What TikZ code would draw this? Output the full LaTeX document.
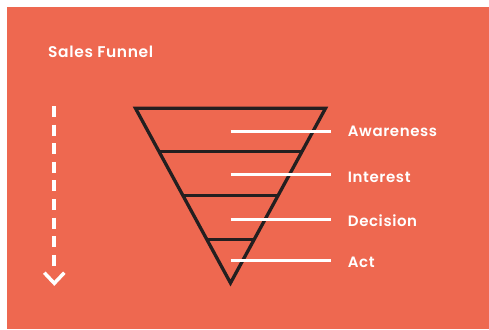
\documentclass[tikz,border=0pt]{standalone}
\usepackage{fontspec}
\setmainfont{Poppins}[BoldFont={Poppins SemiBold}]
\newfontfamily\labelfont{Poppins SemiBold}[LetterSpace=4]
\usetikzlibrary{calc}
\definecolor{funnelbg}{HTML}{EE6850}
\definecolor{funnelink}{HTML}{231F20}
\begin{document}
\begin{tikzpicture}[x=1pt,y=-1pt,
  outline/.style={draw=funnelink,line width=3.3pt,line join=miter},
  tier/.style={draw=funnelink,line width=3pt},
  marker/.style={draw=white,line width=3pt},
  stage/.style={anchor=base west,inner sep=0pt,text=white,font=\labelfont\fontsize{15}{17}\selectfont},
  heading/.style={stage,font=\labelfont\fontsize{15.5}{17}\selectfont},
  flow/.style={draw=white,line width=3.8pt,dash pattern=on 11pt off 7.6pt},
  flowhead/.style={draw=white,line width=3.5pt,line join=miter}]
  % page and background panel
  \useasboundingbox (0,0) rectangle (489,329);
  \fill[funnelbg] (7,7) rectangle (489,329);

  % title
  \node[heading] (title) at (48,57.3) {Sales Funnel};

  % dashed downward arrow
  \coordinate (flowtop) at (53.9,106);
  \coordinate (flowend) at (53.9,266.5);
  \coordinate (headl) at (44.3,272.7);
  \coordinate (headtip) at (54.3,283.3);
  \coordinate (headr) at (64.3,272.7);
  \draw[flow] (flowtop) -- (flowend);
  \draw[flowhead] (headl) -- (headtip) -- (headr);

  % funnel outline
  \coordinate (tl) at (135.5,108.3);
  \coordinate (tr) at (325.5,108.3);
  \coordinate (apex) at (230.5,283);
  \draw[outline] (tl) -- (tr) -- (apex) -- cycle;

  % tier dividers
  \foreach \t in {0.25,0.5,0.75}
    \draw[tier] ($(tl)!\t!(apex)$) -- ($(tr)!\t!(apex)$);

  % stage labels with pointer lines
  \node[stage] (awareness) at (347.7,136) {Awareness};
  \node[stage] (interest)  at (347.7,182.3) {Interest};
  \node[stage] (decision)  at (347.7,226.7) {Decision};
  \node[stage] (act)       at (347.7,267.3) {Act};

  \coordinate (m1) at (230.7,131.7);
  \coordinate (m2) at (230.7,174.7);
  \coordinate (m3) at (230.7,219);
  \coordinate (m4) at (230.7,260);
  \draw[marker] (m1) -- (m1 -| 330.7,0);
  \draw[marker] (m2) -- (m2 -| 330.7,0);
  \draw[marker] (m3) -- (m3 -| 330.7,0);
  \draw[marker] (m4) -- (m4 -| 330.7,0);
\end{tikzpicture}
\end{document}
